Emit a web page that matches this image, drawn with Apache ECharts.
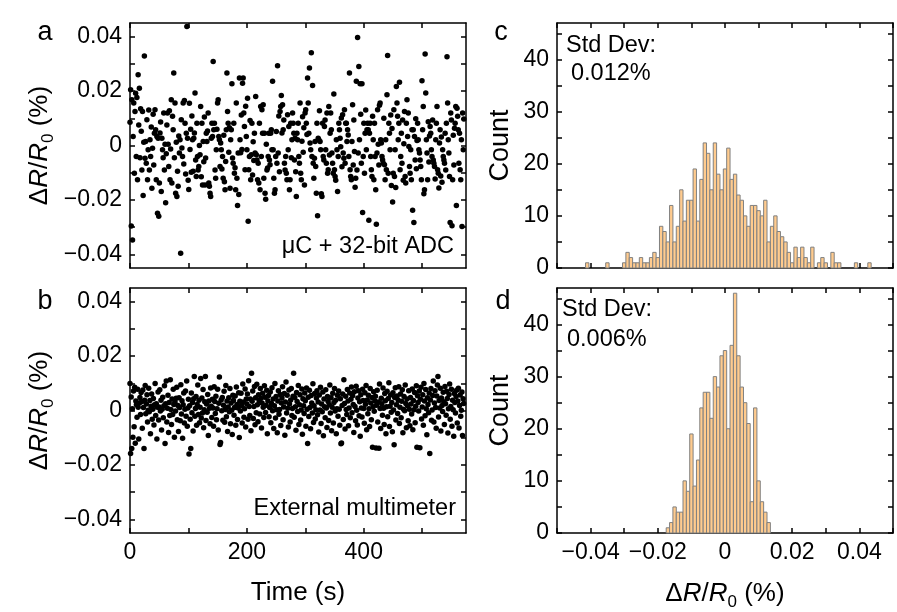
<!DOCTYPE html>
<html><head><meta charset="utf-8">
<script src="https://cdn.jsdelivr.net/npm/echarts@6/dist/echarts.min.js"></script>
<style>html,body{margin:0;padding:0;background:#fff}#chart{width:897px;height:612px}</style>
</head><body><div id="chart"></div>
<script>
// ---------- data ----------
const aTimeStep = 1.07; // s between samples, panel a
const aValues = [
0.0085,0.0205,-0.0296,0.0168,-0.0347,0.0033,0.0156,-0.0102,0.0125,0.0192,-0.004,0.0176,-0.0126,0.026,0.0075,0.021,-0.0045,0.0135,0.0052,-0.009,
0.0125,-0.0184,0.0012,0.0329,-0.0047,0.0015,-0.0065,0.0095,-0.0126,-0.0016,0.013,-0.009,0.0021,-0.004,0.0068,-0.0157,-0.001,0.0115,-0.0072,0.0045,
0.0131,0.0058,-0.0126,0.0033,-0.0249,0.0027,-0.026,-0.0138,0.0046,0.0086,-0.0169,0.0027,-0.0016,-0.0045,0.0119,-0.009,0.0005,-0.021,-0.003,0.0075,
0.0119,0.0005,-0.0077,0.0128,-0.0126,-0.0013,0.0168,-0.0138,0.0107,0.0058,0.0266,-0.0045,0.0156,-0.0175,0.0012,-0.0187,-0.0095,-0.015,0.0035,-0.0028,
0.0021,-0.0396,0.0095,-0.0009,-0.004,0.0156,-0.0068,0.0165,0.0082,-0.0105,0.0045,0.0437,0.0027,-0.0128,-0.0162,0.0155,-0.0015,0.006,-0.0098,0.0108,
0.0021,-0.0095,0.0027,0.0046,0.0193,-0.0053,-0.0114,0.0082,-0.004,-0.009,-0.0077,0.0,-0.0034,0.0143,-0.0115,0.0082,-0.0145,0.0015,-0.006,0.0105,
-0.0145,-0.0046,0.0045,0.0015,0.0053,0.0119,-0.0138,-0.015,-0.0175,-0.0187,0.0027,0.0082,0.0033,0.0309,0.0058,0.0082,-0.009,-0.012,-0.0016,0.006,
0.0156,0.0168,0.0033,0.0021,-0.0077,0.0009,-0.0016,-0.0086,-0.004,-0.012,0.0038,-0.0133,-0.0163,-0.0059,0.0058,0.0266,0.0125,0.0082,-0.0025,0.0065,
-0.0157,0.0021,0.0058,0.0227,-0.0046,-0.0065,0.0082,-0.0102,-0.0082,-0.0163,0.0156,-0.012,-0.022,-0.0028,-0.018,0.0248,0.0021,-0.0027,0.0112,-0.0015,
0.0229,0.0248,0.0119,0.007,-0.0089,0.0144,0.0033,-0.0016,0.0174,-0.0278,-0.0089,-0.004,0.0092,-0.0126,-0.0034,0.0082,-0.0108,0.0014,-0.0055,0.0045,
-0.0028,0.018,-0.0034,-0.0053,-0.0126,-0.0065,-0.0138,0.0082,-0.0163,0.0143,-0.004,0.0131,0.0045,0.015,-0.012,0.0045,-0.0175,-0.0197,0.0005,-0.009,
-0.0083,-0.004,0.0045,-0.0053,-0.0071,0.0045,0.0058,-0.0016,0.0236,-0.0016,-0.012,-0.0175,-0.0163,-0.004,0.0051,-0.0065,0.0293,-0.0028,0.0108,-0.0096,
0.0125,0.0143,0.0184,0.0046,0.015,0.0058,0.0094,-0.0065,-0.009,-0.004,-0.0102,-0.0126,0.0113,-0.0016,0.007,-0.0163,-0.0126,0.0082,-0.0045,0.0021,
0.0119,0.0082,0.0045,-0.0053,0.0027,-0.0096,-0.0187,0.0045,0.0021,0.0082,-0.004,-0.0065,0.0156,-0.0102,-0.0126,0.0016,0.0106,-0.0025,0.0065,-0.0145,
0.0119,0.0131,0.0082,0.004,0.0248,0.0156,0.0045,0.0285,0.0009,-0.0016,0.0341,-0.004,0.022,-0.0065,-0.012,-0.0047,0.0015,-0.0077,-0.0175,0.0082,
-0.0258,0.0027,0.0021,0.0128,0.0015,-0.0016,-0.0177,-0.0187,0.0082,-0.004,-0.0053,0.007,0.0094,-0.0016,-0.0065,0.0119,-0.0102,-0.0089,0.0143,-0.0035,
0.0045,0.0119,0.0058,-0.0028,-0.0065,-0.0102,0.0189,-0.0089,-0.0114,-0.0128,0.0021,-0.0016,-0.0169,-0.004,0.0082,0.0058,0.0027,-0.0005,0.0101,-0.0078,
0.0113,-0.0028,-0.0047,0.0131,-0.0065,0.0082,0.0082,0.0015,0.0058,0.0039,-0.004,0.0266,-0.0089,-0.0114,-0.0126,0.0015,0.015,-0.0072,0.0094,-0.0022,
-0.0153,-0.012,0.0236,-0.009,0.0397,-0.0028,0.029,0.0021,0.0227,0.0115,-0.0065,0.0227,-0.0246,-0.004,0.0082,-0.0102,0.0045,0.013,-0.0016,0.0058,
0.0082,0.0058,-0.0275,0.0045,0.0082,-0.004,-0.0089,-0.0114,0.0107,0.0021,-0.0126,0.0082,-0.004,-0.0163,-0.0289,-0.0028,0.0131,0.0005,-0.0072,0.0148,
0.0156,0.0021,0.0009,-0.004,-0.0053,-0.0065,0.01,-0.0071,-0.0126,0.0021,-0.0089,0.0186,0.0331,-0.0102,0.0082,0.0045,-0.0016,0.0112,-0.0147,0.0062,
-0.0208,-0.0102,0.0131,-0.0114,-0.0016,-0.0154,0.0217,0.0156,0.0107,0.0021,0.0082,0.0232,-0.0089,-0.004,0.0045,-0.0065,0.0094,-0.0128,0.0006,0.0125,
-0.0114,-0.0138,0.0082,0.0168,0.0033,0.0119,-0.0004,-0.0077,-0.0102,-0.0016,-0.0126,0.0058,-0.0238,0.0058,-0.0283,0.0033,-0.0053,0.0098,-0.0085,0.0018,
0.0082,0.0021,-0.0016,-0.0028,-0.0053,-0.0077,-0.0126,0.0238,0.0058,0.0143,-0.0177,-0.0163,0.0336,0.0193,0.0021,-0.0028,-0.0126,0.0087,-0.0061,0.0035,
0.007,0.0045,-0.0016,-0.004,0.0094,-0.0053,-0.0065,-0.0077,-0.0123,0.0021,0.0082,0.0143,-0.0089,-0.0102,-0.0156,0.0009,0.0058,-0.0112,0.0031,-0.0135,
-0.0016,-0.004,-0.0053,-0.0065,0.0045,-0.009,0.0082,0.0326,0.0156,0.0021,-0.0028,-0.0114,-0.0283,0.0119,0.0094,-0.0295,-0.0126,0.0038,-0.0072,0.0063,
0.0082,0.0143,-0.022,0.0137,0.0107,0.0058,-0.0065,0.0045,-0.0089,-0.0126,0.0021,-0.0298,0.0119,-0.0016,0.0097
];

const bTimeStep = 1.0; // s between samples, panel b
const bValues = [
0.0099,-0.0158,0.005,-0.014,0.0006,-0.0098,0.0072,-0.006,0.0085,-0.012,0.0035,0.0021,-0.0025,0.0078,0.0012,-0.0105,0.0028,0.0048,-0.0015,0.0066,
0.0032,-0.0065,0.0075,0.0011,-0.014,0.0038,0.0092,-0.0012,0.0024,0.0058,-0.0042,0.0001,0.0082,-0.0005,0.0037,-0.0085,0.0016,0.0061,-0.0032,0.0005,
0.0044,-0.0053,0.0021,0.0099,-0.0018,0.0025,-0.0105,0.0012,0.0068,-0.0035,0.0013,0.0076,-0.0002,0.0038,-0.0072,0.0005,0.0049,-0.0027,0.0017,0.0091,
-0.0121,0.0025,0.0108,-0.0042,0.0008,0.0056,-0.0081,0.0029,-0.0018,0.0113,0.0004,-0.0051,0.0042,-0.0015,0.0078,0.0022,-0.0098,0.0031,-0.0002,0.0045,
0.0085,-0.0034,0.0018,-0.0077,0.0047,0.0011,-0.0038,0.0095,-0.0013,0.0036,-0.0102,0.0021,0.0064,-0.0046,0.0005,0.0072,-0.0021,0.0108,-0.0058,0.0009,
0.0041,-0.016,0.0017,-0.0032,-0.014,0.0064,-0.0008,0.0029,-0.0075,0.0043,0.0125,-0.0021,0.0007,0.0051,-0.0054,0.0022,0.0094,-0.0015,0.0038,-0.0045,
0.0012,0.0118,-0.0028,0.0046,-0.0009,0.0077,-0.0063,0.0003,0.0032,0.0125,-0.0037,0.0024,-0.0006,0.0059,-0.0092,0.0035,0.0008,-0.0049,0.0083,0.0016,
-0.0026,0.0041,0.0009,-0.0058,0.0087,0.0033,-0.0011,0.0052,-0.0034,0.0006,0.0078,-0.0072,0.0027,0.0123,-0.0125,-0.0118,0.0039,-0.0001,0.0048,-0.0036,
0.0019,0.0071,-0.0043,0.0004,0.0092,-0.0023,0.0035,-0.0077,0.0013,0.0047,-0.0005,0.0081,-0.0049,0.0028,0.0001,-0.0088,0.0056,0.0037,-0.0017,0.0011,
0.0053,-0.0054,0.0086,0.0022,-0.0033,0.0009,0.0065,-0.0099,0.0034,-0.0002,0.0063,0.0018,-0.0046,0.0097,0.0031,-0.0025,0.0006,0.0079,-0.0061,0.0042,
0.0024,0.0061,-0.0032,0.0109,0.0015,-0.0018,0.0042,-0.0074,0.0137,0.0034,0.0072,-0.0029,0.0015,0.0088,-0.0052,0.0047,-0.0008,0.0096,0.0021,-0.0041,
0.0058,0.0037,-0.0013,0.0081,0.0045,-0.0064,0.0028,0.0063,0.0012,-0.0026,0.0091,0.0049,-0.0007,0.0019,0.0074,-0.0085,0.0036,0.0055,-0.0023,0.0011,
0.0068,-0.0045,0.0026,0.0084,-0.0001,0.0042,-0.0066,0.0017,0.0099,-0.0028,0.0051,0.0003,-0.0082,0.0035,0.0073,-0.0014,0.0004,0.0059,-0.0055,0.0028,
0.0046,0.0087,-0.0034,0.0013,0.0062,-0.0091,0.0031,0.0105,-0.0009,0.0056,0.0008,-0.0061,0.0075,0.0024,-0.0042,0.0039,0.0081,-0.0018,0.0007,0.0052,
0.0137,-0.0025,0.0048,0.0014,-0.0073,0.0066,0.0033,-0.0004,0.0092,-0.0051,0.0021,0.0058,-0.0035,0.0002,0.0079,-0.0087,0.0043,0.0017,-0.0011,0.0064,
0.0036,-0.0058,0.0083,0.0005,-0.0121,0.0049,-0.0022,0.0074,0.0011,-0.0067,0.0055,0.0028,-0.0009,0.0098,-0.0044,0.0017,0.0062,-0.0031,0.0003,0.0046,
0.0073,-0.0016,0.0031,-0.0079,0.0057,0.0002,0.0085,-0.0048,0.0024,-0.0005,0.0068,-0.0093,0.0042,0.0014,-0.0027,0.0076,0.0009,-0.0062,0.0051,0.0033,
-0.0037,0.0021,0.0094,-0.0009,0.0047,-0.0074,0.0012,0.0063,-0.0046,0.0029,0.0081,-0.0002,0.0038,-0.0085,0.0006,0.0056,-0.0021,0.0072,0.0005,-0.0054,
0.0043,-0.0122,-0.0119,0.0018,0.0061,-0.0033,0.0113,0.0026,-0.0068,0.0052,0.0004,-0.0015,0.0077,0.0035,-0.0056,0.0009,0.0064,-0.0027,0.0041,0.0086,
-0.0008,0.0054,0.0022,-0.0081,0.0069,0.0015,-0.0038,0.0089,0.0001,-0.0053,0.0046,0.0073,-0.0019,0.0032,-0.0095,0.0058,0.0009,-0.0024,0.0078,0.0037,
0.0007,-0.0047,0.0065,0.0023,0.0092,-0.0071,0.0039,-0.0012,0.0056,0.0006,-0.0059,0.0081,0.0028,-0.0034,0.0048,-0.0135,0.0014,0.0069,-0.0003,0.0035,
0.0052,-0.0138,0.0019,0.0074,-0.0042,0.0031,-0.0139,0.0097,0.0007,-0.0066,0.0045,0.0025,-0.0017,0.0083,0.0008,-0.0051,0.0062,0.0036,-0.0085,0.0014,
0.0071,-0.0023,0.0044,0.0102,-0.0059,0.0016,0.0057,-0.0006,0.0029,-0.0078,0.0065,0.0002,-0.0126,0.0048,0.0084,-0.0035,0.0021,0.0053,-0.0011,0.0038,
0.0087,-0.0048,0.0012,0.0061,-0.0027,0.0034,0.0076,-0.0082,0.0005,0.0051,-0.0001,0.0094,0.0026,-0.0063,0.0042,0.0017,-0.0038,0.0073,0.0005,-0.0056,
0.0048,0.0024,-0.0013,0.0079,-0.0071,0.0037,0.0003,0.0066,-0.0045,0.0016,0.0091,-0.0135,0.0054,0.0029,-0.0002,0.0072,-0.0137,0.0041,0.0085,-0.0031,
0.0013,0.0058,-0.0054,0.0099,0.0035,-0.0019,0.0077,0.0006,-0.0089,0.0047,0.0022,-0.0008,0.0064,-0.0158,0.0039,0.0081,-0.0036,0.0002,0.0055,0.0108,
-0.0042,0.0028,0.0073,0.0011,-0.0065,0.0053,0.0094,0.0125,-0.0024,0.0037,0.0009,0.0082,-0.0075,0.0046,0.0018,-0.0004,0.0067,0.0032,-0.0051,0.0088,
0.0025,-0.0017,0.0071,0.0044,-0.0083,0.0006,0.0059,0.0097,-0.0032,0.0015,0.0078,-0.0058,0.0038,0.0003,-0.0095,0.0062,0.0029,-0.0009,0.0051,0.0074,
-0.0046,0.0035,0.0082,-0.0064,0.0018,0.0057,-0.0021,0.0001,0.0068,-0.0092,0.0043,0.0026
];

const histBinWidth = 0.001;          // % per bin
const cFirstBinCenter = -0.041;
const cCounts = [
1,0,0,0,0,0,1,0,0,0,0,1,3,2,1,1,2,1,1,2,3,2,
8,7,5,12,5,8,15,9,13,13,19,9,17,24,22,15,24,18,15,19,
23,17,18,14,13,10,8,12,12,11,10,13,5,8,10,7,6,5,
3,1,4,2,4,2,1,4,0,1,2,1,0,3,1,1,0,0,0,0,1,0,0,0,1
];
const dFirstBinCenter = -0.017;
const dCounts = [1,2,5,4,4,10,8,19,9,14,24,27,27,22,30,28,34,35,20,36,46,34,28,25,21,6,24,10,6,4,2];

const timeTicks = [0,100,200,300,400,500];
const timeLabels = [0,200,400];
const devTicks = [-0.04,-0.03,-0.02,-0.01,0,0.01,0.02,0.03,0.04];
const devLabels = [-0.04,-0.02,0,0.02,0.04];
const histTicks = [-0.05,-0.04,-0.03,-0.02,-0.01,0,0.01,0.02,0.03,0.04,0.05];
const histLabels = [-0.04,-0.02,0,0.02,0.04];
const countTicks = [0,5,10,15,20,25,30,35,40,45];
const countLabels = [0,10,20,30,40];

const panelLetters = ['a','b','c','d'];
const noteA = 'μC + 32-bit ADC';
const noteB = 'External multimeter';
const stdLabel = 'Std Dev:';
const stdC = '0.012%';
const stdD = '0.006%';

// ---------- chart ----------
const F = "'Liberation Sans', Arial, Helvetica, sans-serif";
const TICK = 23, TITLE = 26, NOTE = 23.5;
function fmt(v){ const r = Math.round(v*10000)/10000; return String(r).replace('-', '\u2212'); }
const devName = '{n|Δ}{i|R}{n|/}{i|R}{s|0}{n| (%)}';
const devRich = {
  n:{fontSize:TITLE,fontFamily:F,color:'#000',verticalAlign:'top',lineHeight:30},
  i:{fontSize:TITLE,fontFamily:F,fontStyle:'italic',color:'#000',verticalAlign:'top',lineHeight:30},
  s:{fontSize:17,fontFamily:F,color:'#000',verticalAlign:'top',lineHeight:18,padding:[13,0,0,0]}
};
const grids = [
  {left:130, top:23, width:336, height:245},
  {left:130, top:288, width:336, height:245},
  {left:557, top:23, width:336, height:245},
  {left:557, top:288, width:336, height:245}
];
function axLine(){ return {show:true, onZero:false, lineStyle:{color:'#000', width:1.5}}; }
function axTick(vals){ return {show:true, inside:true, length:5, customValues:vals, lineStyle:{color:'#000', width:1.5}}; }
function lab(vals){ return {show:true, customValues:vals, formatter:fmt, fontSize:TICK, fontFamily:F, color:'#000', margin:8}; }
const noLab = {show:false};

const xAxes = [], yAxes = [];
// panel a (grid 0)
xAxes.push({gridIndex:0,type:'value',min:0,max:575,position:'bottom',axisLine:axLine(),axisTick:axTick(timeTicks),axisLabel:noLab,splitLine:{show:false}});
xAxes.push({gridIndex:0,type:'value',min:0,max:575,position:'top',axisLine:axLine(),axisTick:axTick(timeTicks),axisLabel:noLab,splitLine:{show:false}});
yAxes.push({gridIndex:0,type:'value',min:-0.045,max:0.045,position:'left',axisLine:axLine(),axisTick:axTick(devTicks),axisLabel:lab(devLabels),splitLine:{show:false},
  name:devName,nameLocation:'middle',nameGap:73,nameRotate:90,nameTextStyle:{rich:devRich}});
yAxes.push({gridIndex:0,type:'value',min:-0.045,max:0.045,position:'right',axisLine:axLine(),axisTick:axTick(devTicks),axisLabel:noLab,splitLine:{show:false}});
// panel b (grid 1)
xAxes.push({gridIndex:1,type:'value',min:0,max:575,position:'bottom',axisLine:axLine(),axisTick:axTick(timeTicks),axisLabel:lab(timeLabels),splitLine:{show:false},
  name:'Time (s)',nameLocation:'middle',nameGap:47,nameTextStyle:{fontSize:TITLE,fontFamily:F,color:'#000'}});
xAxes.push({gridIndex:1,type:'value',min:0,max:575,position:'top',axisLine:axLine(),axisTick:axTick(timeTicks),axisLabel:noLab,splitLine:{show:false}});
yAxes.push({gridIndex:1,type:'value',min:-0.045,max:0.045,position:'left',axisLine:axLine(),axisTick:axTick(devTicks),axisLabel:lab(devLabels),splitLine:{show:false},
  name:devName,nameLocation:'middle',nameGap:73,nameRotate:90,nameTextStyle:{rich:devRich}});
yAxes.push({gridIndex:1,type:'value',min:-0.045,max:0.045,position:'right',axisLine:axLine(),axisTick:axTick(devTicks),axisLabel:noLab,splitLine:{show:false}});
// panel c (grid 2)
xAxes.push({gridIndex:2,type:'value',min:-0.05,max:0.05,position:'bottom',axisLine:axLine(),axisTick:axTick(histTicks),axisLabel:noLab,splitLine:{show:false}});
xAxes.push({gridIndex:2,type:'value',min:-0.05,max:0.05,position:'top',axisLine:axLine(),axisTick:axTick(histTicks),axisLabel:noLab,splitLine:{show:false}});
yAxes.push({gridIndex:2,type:'value',min:0,max:47,position:'left',axisLine:axLine(),axisTick:axTick(countTicks),axisLabel:lab(countLabels),splitLine:{show:false},
  name:'Count',nameLocation:'middle',nameGap:43,nameRotate:90,nameTextStyle:{fontSize:TITLE+1,fontFamily:F,color:'#000'}});
yAxes.push({gridIndex:2,type:'value',min:0,max:47,position:'right',axisLine:axLine(),axisTick:axTick(countTicks),axisLabel:noLab,splitLine:{show:false}});
// panel d (grid 3)
xAxes.push({gridIndex:3,type:'value',min:-0.05,max:0.05,position:'bottom',axisLine:axLine(),axisTick:axTick(histTicks),axisLabel:lab(histLabels),splitLine:{show:false},
  name:devName,nameLocation:'middle',nameGap:48,nameTextStyle:{rich:devRich}});
xAxes.push({gridIndex:3,type:'value',min:-0.05,max:0.05,position:'top',axisLine:axLine(),axisTick:axTick(histTicks),axisLabel:noLab,splitLine:{show:false}});
yAxes.push({gridIndex:3,type:'value',min:0,max:47,position:'left',axisLine:axLine(),axisTick:axTick(countTicks),axisLabel:lab(countLabels),splitLine:{show:false},
  name:'Count',nameLocation:'middle',nameGap:43,nameRotate:90,nameTextStyle:{fontSize:TITLE+1,fontFamily:F,color:'#000'}});
yAxes.push({gridIndex:3,type:'value',min:0,max:47,position:'right',axisLine:axLine(),axisTick:axTick(countTicks),axisLabel:noLab,splitLine:{show:false}});

function scatter(values, step, xi, yi){
  return {type:'scatter', xAxisIndex:xi, yAxisIndex:yi, symbol:'circle', symbolSize:5.5,
    itemStyle:{color:'#000', opacity:1}, data: values.map((v,i)=>[i*step, v]), silent:true};
}
function hist(first, counts, xi, yi){
  return {type:'custom', xAxisIndex:xi, yAxisIndex:yi, silent:true,
    data: counts.map((c,i)=>[first + i*histBinWidth, c]),
    encode:{x:0,y:1},
    renderItem:function(params, api){
      const x = api.value(0), y = api.value(1);
      if (!y) return null;
      const p0 = api.coord([x - histBinWidth/2, y]);
      const p1 = api.coord([x + histBinWidth/2, 0]);
      return {type:'rect', shape:{x:p0[0], y:p0[1], width:p1[0]-p0[0], height:p1[1]-p0[1]},
        style:{fill:'#FFCB8E', stroke:'#808080', lineWidth:1}};
    }};
}
function txt(t, x, y, align, size){
  return {type:'text', x:x, y:y, style:{text:t, x:0, y:0, fill:'#000', font:size+'px '+F, textAlign:align, textVerticalAlign:'middle'}, silent:true};
}
const option = {
  animation:false,
  backgroundColor:'#fff',
  grid: grids,
  xAxis: xAxes,
  yAxis: yAxes,
  series: [
    scatter(aValues, aTimeStep, 0, 0),
    scatter(bValues, bTimeStep, 2, 2),
    hist(cFirstBinCenter, cCounts, 4, 4),
    hist(dFirstBinCenter, dCounts, 6, 6)
  ],
  graphic: [
    txt(panelLetters[0], 45, 33, 'center', 27),
    txt(panelLetters[1], 45, 302, 'center', 27),
    txt(panelLetters[2], 501, 33, 'center', 27),
    txt(panelLetters[3], 503, 302, 'center', 27),
    txt(noteA, 454, 247, 'right', NOTE),
    txt(noteB, 456, 509, 'right', NOTE),
    txt(stdLabel, 566, 46, 'left', NOTE),
    txt(stdC, 571, 74, 'left', NOTE),
    txt(stdLabel, 562, 310, 'left', NOTE),
    txt(stdD, 567, 340, 'left', NOTE)
  ]
};
const chart = echarts.init(document.getElementById('chart'), null, {renderer:'canvas'});
chart.setOption(option);
</script></body></html>
